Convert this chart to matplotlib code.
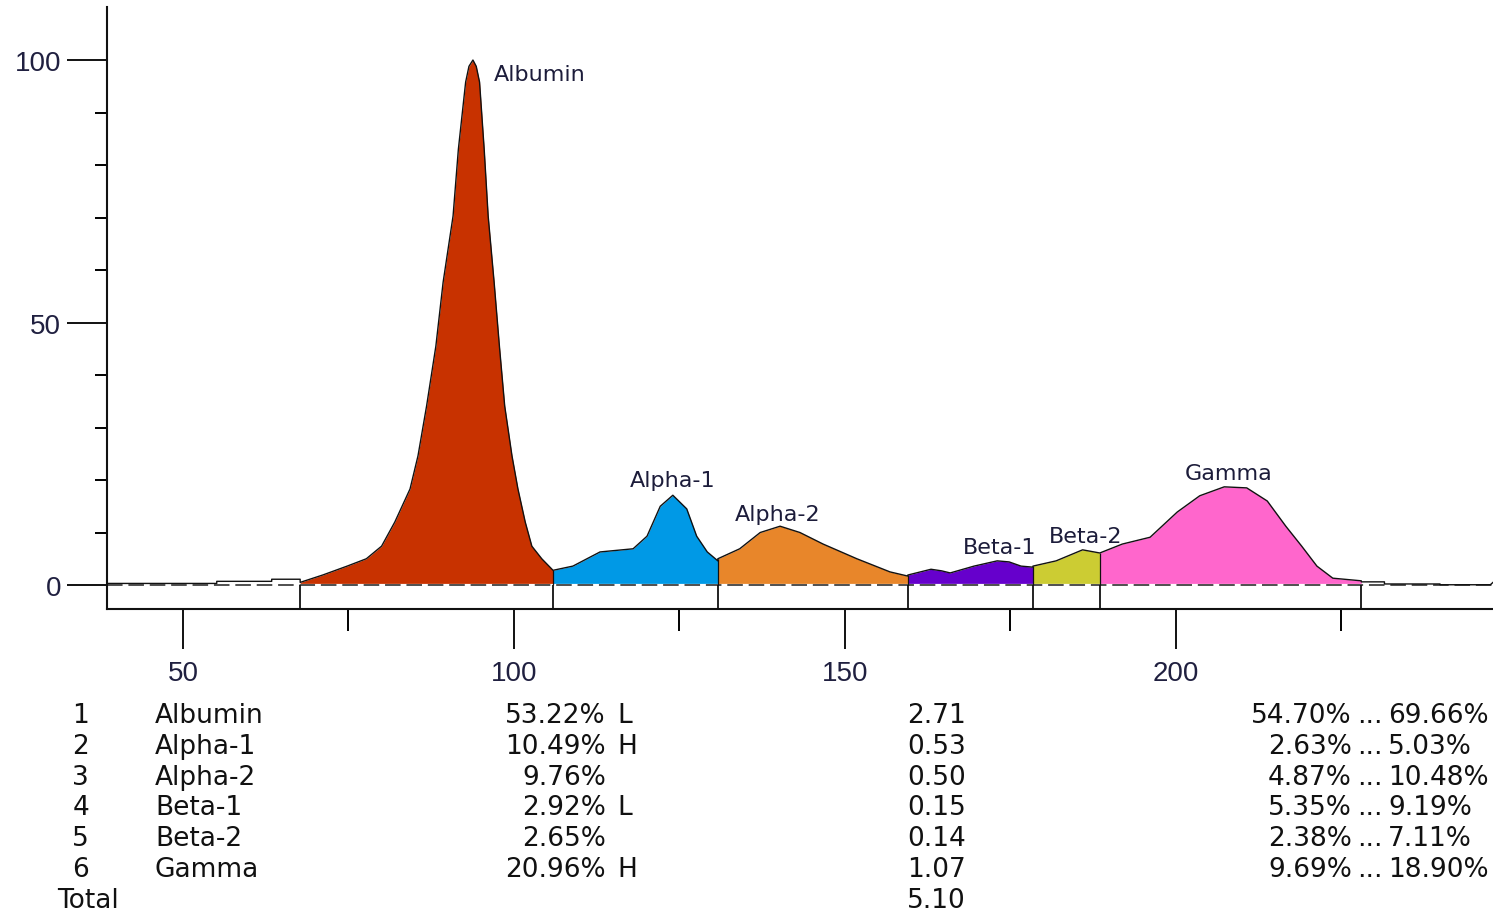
import matplotlib
matplotlib.use("Agg")
import matplotlib.pyplot as plt
import numpy as np

W, H = 1493, 912

# densitometer trace, one list pair per fraction (migration units, relative density)
left_tail_x = [38.5, 55.1, 55.1, 63.4, 63.4, 67.7]
left_tail_y = [0.3, 0.3, 0.7, 0.7, 1.1, 1.1]

albumin_x = [67.7, 71.1, 74.8, 77.7, 80.0, 82.0, 84.3, 85.5, 86.8, 88.2, 89.3, 90.8, 91.6,
             92.7, 93.2, 93.8, 94.3, 94.8, 95.5, 96.1, 97.0, 97.8, 98.6, 99.7, 100.6,
             101.7, 102.7, 104.2, 105.9]
albumin_y = [0.5, 1.9, 3.6, 5.0, 7.4, 12.0, 18.3, 24.6, 34.1, 45.5, 57.7, 70.3, 83.0,
             95.8, 98.8, 100.0, 98.8, 95.8, 83.0, 70.3, 57.7, 45.5, 34.1, 24.6, 18.3,
             12.0, 7.4, 5.0, 2.8]

alpha1_x = [105.9, 108.9, 113.0, 118.0, 120.1, 122.1, 124.0, 126.1, 127.6, 129.2, 130.8]
alpha1_y = [2.8, 3.6, 6.3, 6.9, 9.3, 15.0, 17.1, 14.5, 9.3, 6.3, 4.6]

alpha2_x = [130.8, 134.1, 137.2, 140.2, 143.2, 146.7, 151.8, 156.8, 159.5]
alpha2_y = [5.0, 6.9, 10.0, 11.2, 10.0, 7.8, 5.0, 2.5, 1.7]

beta1_x = [159.5, 163.0, 164.6, 165.9, 169.5, 173.0, 174.8, 176.6, 178.4]
beta1_y = [1.9, 3.0, 2.7, 2.3, 3.6, 4.6, 4.4, 3.6, 3.4]

beta2_x = [178.4, 181.9, 185.9, 188.5]
beta2_y = [3.6, 4.6, 6.7, 6.1]

gamma_x = [188.5, 191.9, 196.1, 200.2, 203.6, 207.3, 210.7, 213.8, 216.6, 219.0, 221.3, 223.7, 228.0]
gamma_y = [6.1, 7.8, 9.1, 13.9, 17.0, 18.7, 18.5, 16.0, 11.2, 7.4, 3.6, 1.3, 0.8]

right_tail_x = [228.0, 231.5, 231.5, 239.9, 239.9, 247.5, 247.9]
right_tail_y = [0.6, 0.6, 0.2, 0.2, 0.05, 0.05, 0.5]

fraction_bounds = [67.7, 105.9, 130.8, 159.5, 178.4, 188.5, 228.0]

fractions = ["Albumin", "Alpha-1", "Alpha-2", "Beta-1", "Beta-2", "Gamma"]
colors = ["#C83200", "#0099E6", "#E8862A", "#6600CC", "#CCCC33", "#FF66CC"]
label_x = [97.0, 123.9, 139.9, 173.4, 186.4, 207.9]
label_y = [97.3, 20.0, 13.5, 7.2, 9.3, 21.3]

percent = ["53.22%", "10.49%", "9.76%", "2.92%", "2.65%", "20.96%"]
flags = ["L", "H", "", "L", "", "H"]
conc = ["2.71", "0.53", "0.50", "0.15", "0.14", "1.07"]
total_conc = "5.10"
ref_low = ["54.70%", "2.63%", "4.87%", "5.35%", "2.38%", "9.69%"]
ref_high = ["69.66%", "5.03%", "10.48%", "9.19%", "7.11%", "18.90%"]

seg_x = [albumin_x, alpha1_x, alpha2_x, beta1_x, beta2_x, gamma_x]
seg_y = [albumin_y, alpha1_y, alpha2_y, beta1_y, beta2_y, gamma_y]

fig = plt.figure(figsize=(W / 100, H / 100), dpi=100)
ax = fig.add_axes([107 / W, 1 - 610 / H, 1 - 107 / W, (610 - 8) / H])
ax.set_xlim(38.52, 247.9)
ax.set_ylim(-4.57, 110.1)

for xs, ys, c in zip(seg_x, seg_y, colors):
    ax.fill_between(xs, ys, 0, color=c, lw=0, zorder=1)

# dashed zero line
ax.plot([38.5, 247.9], [0, 0], color="white", lw=1.6, zorder=2)
ax.plot([38.5, 247.9], [0, 0], color="#222222", lw=1.4, ls=(0, (8, 3)), alpha=0.8, zorder=2)

# trace outline
all_x = np.concatenate([left_tail_x] + seg_x + [right_tail_x])
all_y = np.concatenate([left_tail_y] + seg_y + [right_tail_y])
ax.plot(all_x, all_y, color="#111111", lw=1.0, zorder=3)

# fraction separators
ax.vlines(fraction_bounds, -4.57, 0, color="#111111", lw=1.3, zorder=3)
ax.vlines([xs[0] for xs in seg_x[1:]], 0, [ys[0] for ys in seg_y[1:]],
          color="#111111", lw=0.9, zorder=3)

for name, lx, ly in zip(fractions, label_x, label_y):
    ha = "left" if name == "Albumin" else "center"
    ax.text(lx, ly, name, ha=ha, va="center", fontsize=16, family="DejaVu Sans",
            color="#1c1c3a")

for side in ["top", "right"]:
    ax.spines[side].set_visible(False)
for side in ["left", "bottom"]:
    ax.spines[side].set_linewidth(1.5)
    ax.spines[side].set_color("#111111")

ax.set_xticks([50, 100, 150, 200])
ax.set_xticks([75, 125, 175, 225], minor=True)
ax.set_yticks([0, 50, 100])
ax.set_yticks(np.arange(10, 110, 10), minor=True)
ax.tick_params(axis="x", which="major", length=29, width=1.4, pad=8)
ax.tick_params(axis="x", which="minor", length=16, width=1.4)
ax.tick_params(axis="y", which="major", length=29, width=1.4, pad=4)
ax.tick_params(axis="y", which="minor", length=9, width=1.4)
ax.tick_params(colors="#111111", labelcolor="#202040")
for lab in ax.get_xticklabels() + ax.get_yticklabels():
    lab.set_fontfamily("Liberation Sans")
    lab.set_fontsize(20)

# results table below the plot
def ftext(x, y, s, ha="left"):
    fig.text(x / W, 1 - y / H, s, ha=ha, va="baseline", fontsize=19,
             family="DejaVu Sans", color="#111111")

row_base = 723
row_step = 30.8
for i in range(len(fractions)):
    yb = row_base + i * row_step
    ftext(89, yb, str(i + 1), ha="right")
    ftext(155, yb, fractions[i])
    ftext(606, yb, percent[i], ha="right")
    if flags[i]:
        ftext(617, yb, flags[i])
    ftext(966, yb, conc[i], ha="right")
    ftext(1352, yb, ref_low[i], ha="right")
    ftext(1370, yb, "...", ha="center")
    ftext(1388, yb, ref_high[i])

yb = row_base + len(fractions) * row_step
ftext(57, yb, "Total")
ftext(966, yb, total_conc, ha="right")

fig.savefig("out.png", dpi=100)
